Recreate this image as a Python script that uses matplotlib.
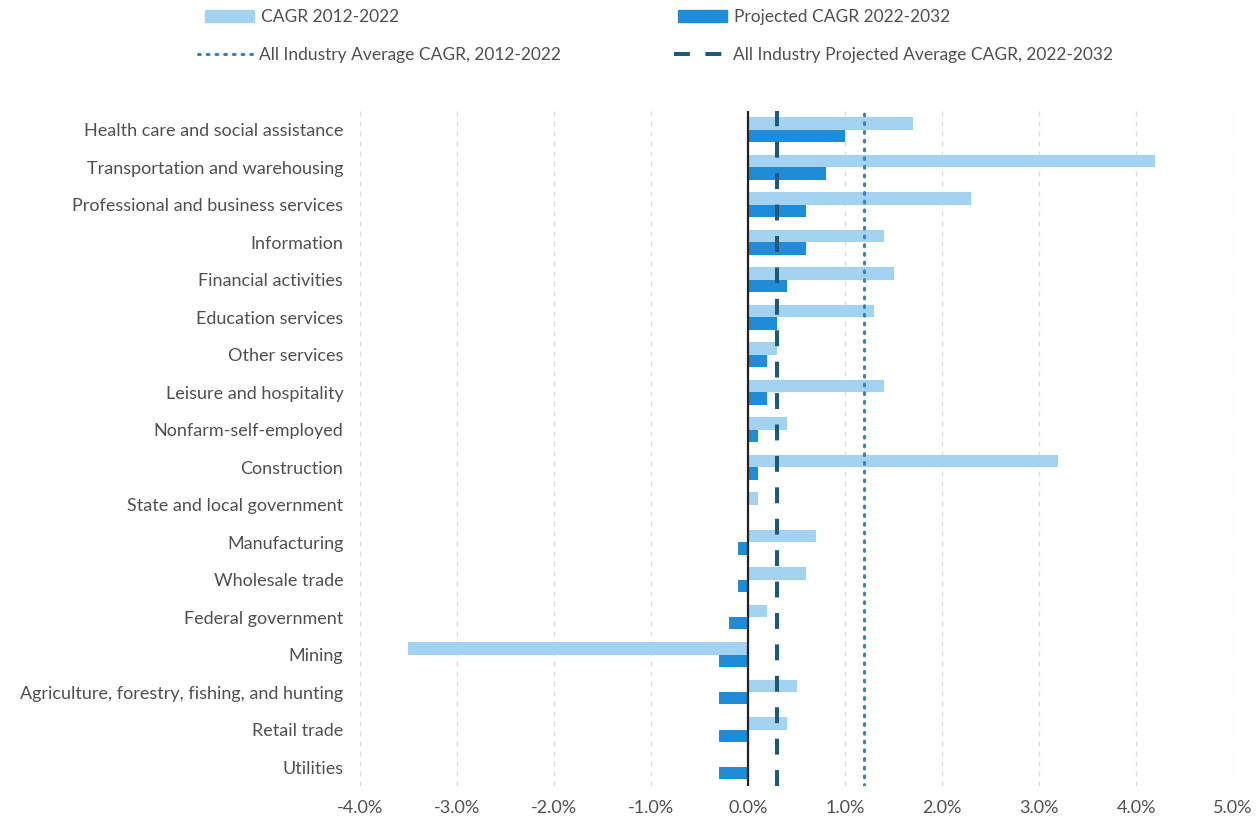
import matplotlib
matplotlib.use("Agg")
import matplotlib.pyplot as plt
import numpy as np
from matplotlib.patches import Patch
from matplotlib.lines import Line2D
from matplotlib.ticker import FuncFormatter, MultipleLocator

plt.rcParams['font.family'] = ['Lato', 'DejaVu Sans']

categories = [
    "Health care and social assistance",
    "Transportation and warehousing",
    "Professional and business services",
    "Information",
    "Financial activities",
    "Education services",
    "Other services",
    "Leisure and hospitality",
    "Nonfarm-self-employed",
    "Construction",
    "State and local government",
    "Manufacturing",
    "Wholesale trade",
    "Federal government",
    "Mining",
    "Agriculture, forestry, fishing, and hunting",
    "Retail trade",
    "Utilities",
]
cagr_2012_2022 = [1.7, 4.2, 2.3, 1.4, 1.5, 1.3, 0.3, 1.4, 0.4, 3.2, 0.1, 0.7, 0.6, 0.2, -3.5, 0.5, 0.4, 0.0]
proj_2022_2032 = [1.0, 0.8, 0.6, 0.6, 0.4, 0.3, 0.2, 0.2, 0.1, 0.1, 0.0, -0.1, -0.1, -0.2, -0.3, -0.3, -0.3, -0.3]
avg_2012_2022 = 1.2
avg_proj = 0.3
legend_labels = [
    "CAGR 2012-2022",
    "Projected CAGR 2022-2032",
    "All Industry Average CAGR, 2012-2022",
    "All Industry Projected Average CAGR, 2022-2032",
]

light = "#a4d3f2"
dark = "#1f8cd8"
dot_col = "#3283c4"
dash_col = "#1e5a78"
text_col = "#505050"
dot_style = dict(color=dot_col, lw=2.2, linestyle=(0, (0.6, 2.25)), dash_capstyle='round')
dash_style = dict(color=dash_col, lw=2.9, linestyle=(0, (3.95, 3.85)))

fig = plt.figure(figsize=(12.6, 8.22), dpi=100)
ax = fig.add_axes([0.2857, 0.044, 0.6929, 0.821])

y = np.arange(len(categories))
h = 0.33
ax.barh(y - h/2, cagr_2012_2022, height=h, color=light, zorder=2)
ax.barh(y + h/2, proj_2022_2032, height=h, color=dark, zorder=2)

ax.axvline(0, color="#222222", lw=1.6, zorder=3)
ax.axvline(avg_2012_2022, zorder=4, **dot_style)
ax.axvline(avg_proj, zorder=4, **dash_style)

ax.set_xlim(-4, 5)
ax.set_ylim(len(categories) - 0.5, -0.5)
ax.xaxis.set_major_locator(MultipleLocator(1))
ax.xaxis.set_major_formatter(FuncFormatter(lambda v, p: f"{v:.1f}%"))
ax.grid(axis='x', color="#dcdcdc", linestyle=(0, (4, 4)), lw=0.9, zorder=0)
ax.set_yticks(y)
ax.set_yticklabels(categories)
ax.tick_params(axis='both', length=0, labelsize=13, colors=text_col)
ax.tick_params(axis='x', pad=10)
ax.tick_params(axis='y', pad=12)
for s in ax.spines.values():
    s.set_visible(False)

handles = [
    Patch(color=light),
    Patch(color=dark),
    Line2D([], [], **dot_style),
    Line2D([], [], **dash_style),
]
anchors = [(205, 17), (678, 17), (198, 55), (674, 55)]
hlens = [2.8, 2.8, 3.1, 3.0]
W, H = 1260, 822
for hnd, lab, (px, py), hl in zip(handles, legend_labels, anchors, hlens):
    lg = fig.legend([hnd], [lab], loc='center left', bbox_to_anchor=(px / W, 1 - py / H),
                    frameon=False, fontsize=12.5, handlelength=hl, handleheight=0.65,
                    handletextpad=0.4, borderpad=0, borderaxespad=0)
    for t in lg.get_texts():
        t.set_color(text_col)

fig.savefig("out.png", dpi=100)
